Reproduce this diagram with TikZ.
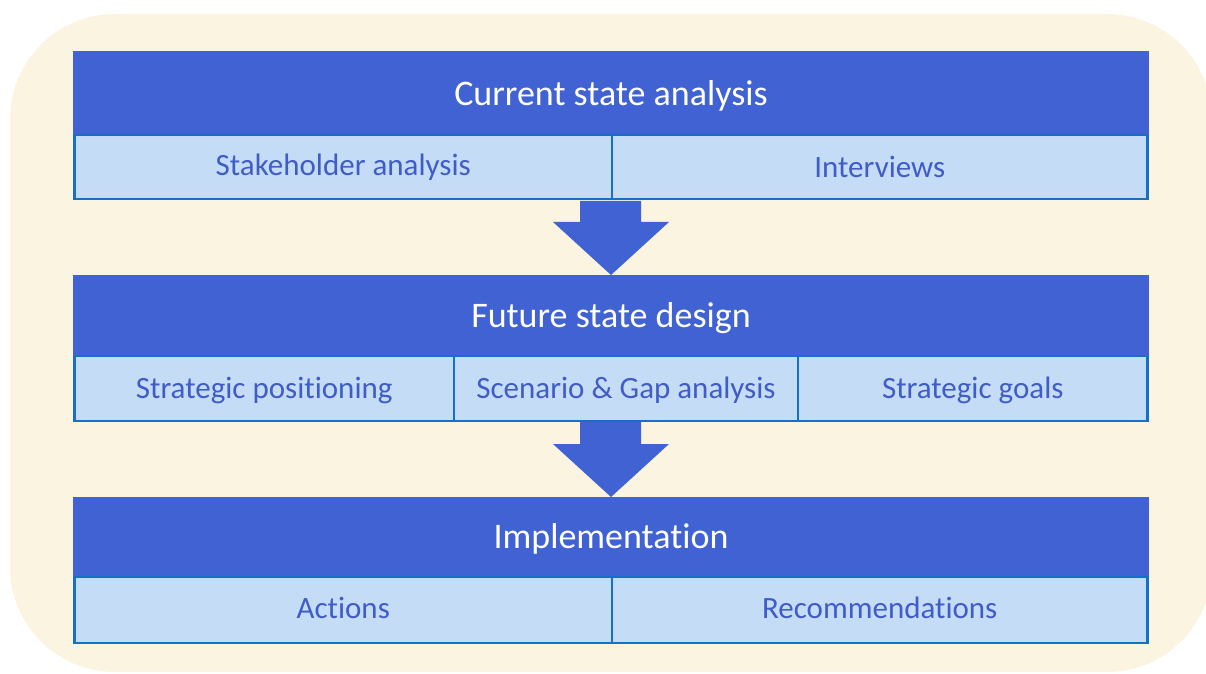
\documentclass[tikz,border=0pt]{standalone}
\usepackage{fontspec}
\setmainfont{Carlito}[Ligatures=NoCommon]
\usetikzlibrary{calc}
\definecolor{cream}{RGB}{251,244,225}
\definecolor{headblue}{RGB}{64,98,211}
\definecolor{cellfill}{RGB}{197,220,247}
\definecolor{cellline}{RGB}{22,112,200}
\definecolor{celltext}{RGB}{63,92,200}
\newcommand{\shiftby}[2]{\raisebox{#1}[\height][\depth]{#2}}
\begin{document}
\begin{tikzpicture}[x=1pt,y=1pt,
  header/.style={rectangle, fill=headblue, inner sep=0pt, outer sep=0pt,
    minimum width=1076pt, text=white, font=\fontsize{36}{42}\selectfont},
  cell/.style={rectangle, fill=cellfill, draw=cellline, line width=2.5pt,
    inner sep=0pt, outer sep=0pt, text=celltext, font=\fontsize{31}{36}\selectfont},
  flowarrow/.style={fill=headblue}]
\useasboundingbox (0,0) rectangle (1206,673);
\fill[cream, rounded corners=105pt] (10,1) rectangle (1212,659);

% Stage 1
\node[header, minimum height=83pt] (h1) at (611,580.5) {\shiftby{-3pt}{Current state analysis}};
\node[cell, minimum width=537.5pt, minimum height=64pt] (s1a) at (343.25,506) {Stakeholder analysis};
\node[cell, minimum width=535.5pt, minimum height=64pt] (s1b) at (879.75,506) {Interviews};

% Stage 2
\node[header, minimum height=80pt] (h2) at (611,358) {\shiftby{-3pt}{Future state design}};
\node[cell, minimum width=379.5pt, minimum height=65pt] (s2a) at (264.25,284.5) {\shiftby{-1.5pt}{Strategic positioning}};
\node[cell, minimum width=344pt, minimum height=65pt] (s2b) at (626,284.5) {\shiftby{-1.5pt}{Scenario \& Gap analysis}};
\node[cell, minimum width=349.5pt, minimum height=65pt] (s2c) at (972.75,284.5) {\shiftby{-1.5pt}{Strategic goals}};

% Stage 3
\node[header, minimum height=79pt] (h3) at (611,136.5) {\shiftby{-2pt}{Implementation}};
\node[cell, minimum width=537.5pt, minimum height=66pt] (s3a) at (343.25,63) {\shiftby{2pt}{Actions}};
\node[cell, minimum width=535.5pt, minimum height=66pt] (s3b) at (879.75,63) {\shiftby{2pt}{Recommendations}};

% Arrows
\coordinate (a1) at (611,473.25);
\fill[flowarrow] ($(a1)+(-31,-1.25)$) -- ++(0,-21) -- ++(-27,0) -- (h2.north) -- ($(a1)+(58,-22.25)$) -- ++(-28,0) -- ($(a1)+(30,-1.25)$) -- cycle;
\coordinate (a2) at (611,252.25);
\fill[flowarrow] ($(a2)+(-31,-1.25)$) -- ++(0,-22) -- ++(-27,0) -- (h3.north) -- ($(a2)+(58,-23.25)$) -- ++(-28,0) -- ($(a2)+(30,-1.25)$) -- cycle;
\end{tikzpicture}
\end{document}
